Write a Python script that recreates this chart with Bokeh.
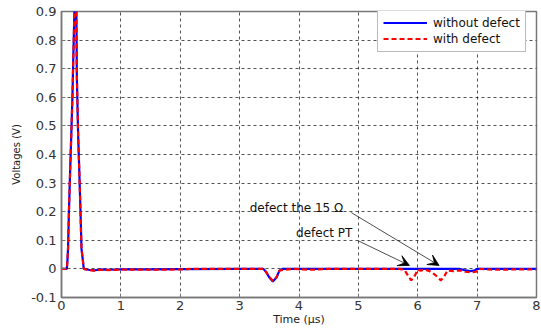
from bokeh.plotting import figure
from bokeh.models import (Legend, LegendItem, FixedTicker, Arrow, VeeHead,
                          ColumnDataSource, Label)
from bokeh.embed import file_html
from bokeh.resources import INLINE

# ---- data ----
t_without = [0.0, 0.08, 0.09, 0.10, 0.11, 0.125, 0.145, 0.165, 0.185, 0.20, 0.22,
             0.235, 0.25, 0.258, 0.28, 0.30, 0.32, 0.337, 0.36, 0.375,
             0.45, 0.55, 0.65, 0.8, 1.0, 1.5, 2.0, 3.0, 3.4, 3.45, 3.5, 3.56,
             3.62, 3.67, 3.72, 4.5, 5.5, 6.0, 6.7, 6.78, 6.88, 6.95, 7.0, 7.5, 8.0]
v_without = [0.0, 0.0, 0.0, 0.03, 0.07, 0.2, 0.34, 0.47, 0.61, 0.75, 0.92,
             1.0, 0.92, 0.68, 0.47, 0.34, 0.2, 0.07, 0.03, 0.0,
             -0.003, -0.005, -0.002, -0.003, -0.002, -0.002, -0.001, 0.0, 0.0, -0.012, -0.03, -0.044,
             -0.03, -0.006, 0.0, 0.0, 0.0, 0.0, 0.0, -0.004, -0.008, -0.006, 0.0, 0.0, 0.0]

t_with = [0.0, 0.08, 0.09, 0.10, 0.11, 0.125, 0.145, 0.165, 0.185, 0.20, 0.22,
          0.235, 0.25, 0.258, 0.28, 0.30, 0.32, 0.337, 0.36, 0.375,
          0.45, 0.55, 0.65, 0.8, 1.0, 1.5, 2.0, 2.2, 3.0, 3.4, 3.45, 3.5, 3.56,
          3.62, 3.67, 3.75, 3.9, 4.2, 4.5, 5.0, 5.7, 5.78, 5.84, 5.89, 5.94, 6.0,
          6.05, 6.12, 6.2, 6.3, 6.39, 6.45, 6.5, 6.6, 6.7, 6.8, 6.9, 6.98, 7.02,
          7.3, 7.6, 8.0]
v_with = [0.0, 0.0, 0.0, 0.03, 0.07, 0.2, 0.34, 0.47, 0.61, 0.75, 0.92,
          1.0, 0.92, 0.68, 0.47, 0.34, 0.2, 0.07, 0.03, 0.0,
          -0.004, -0.006, -0.003, -0.004, -0.002, -0.003, -0.002, 0.0, 0.0, 0.0, -0.012, -0.028, -0.042,
          -0.03, -0.006, -0.003, 0.0, -0.003, 0.0, 0.0, 0.0, -0.005, -0.025, -0.04, -0.028, -0.003,
          -0.006, -0.002, -0.008, -0.022, -0.04, -0.025, -0.005, -0.008, -0.005, -0.01, -0.012, -0.01, 0.0,
          -0.003, -0.002, -0.002]

x_ticks = [0, 1, 2, 3, 4, 5, 6, 7, 8]
y_ticks = [-0.1, 0.0, 0.1, 0.2, 0.3, 0.4, 0.5, 0.6, 0.7, 0.8, 0.9]
y_tick_labels = ["-0.1", "0", "0.1", "0.2", "0.3", "0.4", "0.5", "0.6", "0.7", "0.8", "0.9"]

series_names = ["without defect", "with defect"]
annotations = [
    # text, text x, text y, arrow start x, y, arrow end x, y
    ("defect the 15 \u03a9", 3.17, 0.213, 4.88, 0.197, 6.36, 0.012),
    ("defect PT", 3.95, 0.126, 5.0, 0.098, 5.86, 0.012),
]

FONT = "DejaVu Sans"

p = figure(width=541, height=329, x_range=(0, 8), y_range=(-0.1, 0.9),
           output_backend="svg", toolbar_location=None,
           min_border_left=61, min_border_right=5, min_border_top=11,
           min_border_bottom=32)
p.background_fill_color = "white"
p.border_fill_color = "white"
p.outline_line_color = "#777777"
p.outline_line_width = 1.5

# grids
for g in (p.xgrid, p.ygrid):
    g.grid_line_color = "black"
    g.grid_line_dash = "3 3"
    g.grid_line_width = 0.8
    g.grid_line_alpha = 0.85
p.xgrid.ticker = FixedTicker(ticks=x_ticks)
p.ygrid.ticker = FixedTicker(ticks=y_ticks)

# axes
p.xaxis.ticker = FixedTicker(ticks=x_ticks)
p.yaxis.ticker = FixedTicker(ticks=y_ticks)
p.yaxis.major_label_overrides = {t: s for t, s in zip(y_ticks, y_tick_labels)}
p.xaxis.major_label_overrides = {t: str(t) for t in x_ticks}
for ax in (p.xaxis, p.yaxis):
    ax.axis_line_color = "#777777"
    ax.axis_line_width = 1.5
    ax.major_tick_in = 4
    ax.major_tick_out = 0
    ax.major_tick_line_color = "#777777"
    ax.minor_tick_line_color = None
    ax.major_label_text_font = FONT
    ax.major_label_text_font_size = "13px"
    ax.major_label_text_color = "#333333"
    ax.axis_label_text_font = FONT
    ax.axis_label_text_font_style = "normal"
    ax.axis_label_text_color = "#222222"
p.xaxis.axis_label = "Time (\u00b5s)"
p.xaxis.axis_label_text_font_size = "11px"
p.xaxis.axis_label_standoff = 0
p.xaxis.major_label_standoff = 3
p.yaxis.axis_label = "Voltages (V)"
p.yaxis.axis_label_text_font_size = "10px"
p.yaxis.axis_label_standoff = 6
p.yaxis.major_label_standoff = 5

# lines
src_a = ColumnDataSource(dict(t=t_without, v=v_without))
src_b = ColumnDataSource(dict(t=t_with, v=v_with))
r_a = p.line("t", "v", source=src_a, line_color="#0000ff", line_width=2.2)
r_b = p.line("t", "v", source=src_b, line_color="#ff0000", line_width=2.2,
             line_dash="5 3")

# annotations
for txt, tx, ty, x0, y0, x1, y1 in annotations:
    p.add_layout(Label(x=tx, y=ty, text=txt, text_font=FONT,
                       text_font_size="12px", text_baseline="middle",
                       text_color="#111111"))
    p.add_layout(Arrow(x_start=x0, y_start=y0, x_end=x1, y_end=y1,
                       line_width=0.8, line_color="#222222",
                       end=VeeHead(size=11, fill_color="black",
                                   line_color="black", line_width=0.8)))

legend = Legend(items=[LegendItem(label=series_names[0], renderers=[r_a]),
                       LegendItem(label=series_names[1], renderers=[r_b])],
                location=(316, 245))
legend.label_text_font = FONT
legend.label_text_font_size = "12px"
legend.label_text_color = "#111111"
legend.glyph_width = 44
legend.glyph_height = 15
legend.label_height = 15
legend.label_standoff = 6
legend.padding = 5
legend.spacing = 1
legend.margin = 0
legend.border_line_color = "#777777"
legend.border_line_width = 1.5
legend.background_fill_color = "white"
legend.background_fill_alpha = 1.0
p.add_layout(legend)

open("out.html", "w").write(file_html(p, INLINE))
